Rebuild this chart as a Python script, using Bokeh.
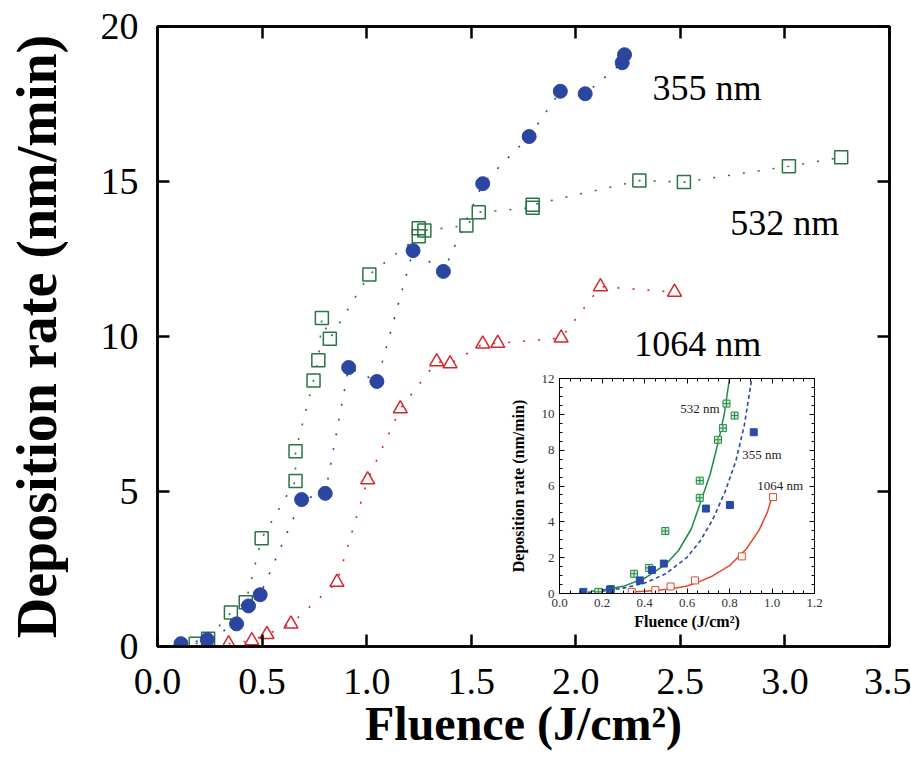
from bokeh.plotting import figure
from bokeh.models import FixedTicker, LinearAxis, Range1d, CustomLabelingPolicy
from bokeh.layouts import column
from bokeh.embed import file_html
from bokeh.resources import INLINE
from bokeh.core.properties import value

# ---------------- data ----------------
# 355 nm series
f355 = [0.112, 0.238, 0.378, 0.435, 0.491, 0.689, 0.802, 0.914, 1.049, 1.222,
        1.367, 1.555, 1.777, 1.926, 2.045, 2.222, 2.233]
r355 = [0.09, 0.22, 0.73, 1.31, 1.67, 4.74, 4.94, 9.00, 8.55, 12.77,
        12.10, 14.93, 16.45, 17.91, 17.83, 18.83, 19.09]
# 532 nm series
f532 = [0.183, 0.242, 0.351, 0.422, 0.498, 0.660, 0.660, 0.746, 0.769, 0.786,
        0.824, 1.013, 1.249, 1.249, 1.276, 1.477, 1.536, 1.794, 1.794, 2.304,
        2.517, 3.019, 3.269]
r532 = [0.09, 0.25, 1.10, 1.43, 3.49, 5.34, 6.30, 8.58, 9.23, 10.60,
        9.93, 12.00, 13.23, 13.49, 13.42, 13.58, 14.01, 14.15, 14.25, 15.03,
        14.98, 15.49, 15.78]
# 1064 nm series
f1064 = [0.340, 0.451, 0.523, 0.638, 0.858, 1.005, 1.161, 1.335, 1.399, 1.555,
         1.627, 1.930, 2.118, 2.472]
r1064 = [0.09, 0.19, 0.39, 0.73, 2.07, 5.38, 7.67, 9.19, 9.12, 9.76,
         9.78, 9.95, 11.61, 11.43]

# number of low-fluence points shown in the inset
n_inset_355 = 8
n_inset_532 = 11
n_inset_1064 = 6

# fitted curves of the inset
fit532_x = [0.15, 0.20, 0.30, 0.40, 0.50, 0.56, 0.62, 0.67, 0.71, 0.75, 0.775, 0.80]
fit532_y = [0.13, 0.19, 0.40, 0.85, 1.62, 2.40, 3.60, 5.30, 6.70, 8.60, 10.0, 12.0]
fit355_x = [0.10, 0.20, 0.30, 0.40, 0.50, 0.60, 0.66, 0.72, 0.78, 0.83, 0.87, 0.905]
fit355_y = [0.04, 0.13, 0.30, 0.58, 1.10, 2.02, 2.90, 4.10, 5.70, 7.40, 9.40, 12.0]
fit1064_x = [0.34, 0.40, 0.45, 0.53, 0.60, 0.65, 0.72, 0.80, 0.88, 0.94, 0.98, 1.00]
fit1064_y = [0.08, 0.13, 0.17, 0.27, 0.42, 0.62, 0.98, 1.55, 2.50, 3.55, 4.60, 5.40]

# tick labels
x_ticks = [0.0, 0.5, 1.0, 1.5, 2.0, 2.5, 3.0, 3.5]
x_tick_labels = ["0.0", "0.5", "1.0", "1.5", "2.0", "2.5", "3.0", "3.5"]
y_ticks = [0, 5, 10, 15, 20]
y_tick_labels = ["0", "5", "10", "15", "20"]
ix_ticks = [0.0, 0.2, 0.4, 0.6, 0.8, 1.0, 1.2]
ix_tick_labels = ["0.0", "0.2", "0.4", "0.6", "0.8", "1.0", "1.2"]
ix_minor = [round(i * 0.05, 2) for i in range(25)]
iy_ticks = [0, 2, 4, 6, 8, 10, 12]
iy_tick_labels = ["0", "2", "4", "6", "8", "10", "12"]
iy_minor = [i * 0.5 for i in range(25)]

series_names = ["355 nm", "532 nm", "1064 nm"]
x_title = "Fluence (J/cm²)"
y_title = "Deposition rate (nm/min)"

# ---------------- styles ----------------
FONT = "Liberation Serif"
BLUE, GREEN, RED = "#2B46A0", "#2A7446", "#D3272E"
IBLUE, IGREEN, IRED = "#2A4AA6", "#1E8B45", "#E2492B"


def no_labels():
    return CustomLabelingPolicy(code="return new Set()")


def make_axes(fig, xt, xlab, yt, ylab, xminor, yminor, lw, tick_in, minor_in,
              tick_font, tick_color, title_fonts, xtitle, ytitle):
    axes = {}
    for loc in ["below", "above", "left", "right"]:
        horizontal = loc in ("below", "above")
        ticks = xt if horizontal else yt
        labels = xlab if horizontal else ylab
        minor = xminor if horizontal else yminor
        ax = LinearAxis(ticker=FixedTicker(ticks=ticks, minor_ticks=minor))
        ax.axis_line_width = lw
        ax.axis_line_color = "black"
        ax.major_tick_line_width = lw
        ax.minor_tick_line_width = 1
        ax.major_tick_in = tick_in
        ax.major_tick_out = 0
        ax.minor_tick_in = minor_in
        ax.minor_tick_out = 0
        if not minor:
            ax.minor_tick_line_color = None
        ax.major_label_text_font = FONT
        ax.major_label_text_color = tick_color
        if loc in ("below", "left"):
            ax.major_label_overrides = dict(zip(ticks, labels))
            ax.major_label_text_font_size = tick_font
            ax.axis_label = xtitle if horizontal else ytitle
            ax.axis_label_text_font = FONT
            ax.axis_label_text_font_style = "bold"
            ax.axis_label_text_color = "black"
            ax.axis_label_text_font_size = title_fonts[0] if horizontal else title_fonts[1]
        else:
            ax.major_label_policy = no_labels()
            ax.major_label_text_font_size = "1px"
            ax.major_label_standoff = 0
        fig.add_layout(ax, loc)
        axes[loc] = ax
    return axes


# ---------------- main figure ----------------
p = figure(width=911, height=758, x_range=Range1d(0, 3.5), y_range=Range1d(0, 20),
           x_axis_location=None, y_axis_location=None,
           output_backend="svg", toolbar_location=None,
           min_border_left=157, min_border_right=22, min_border_top=26, min_border_bottom=112)
p.grid.visible = False
p.outline_line_color = "black"
p.outline_line_width = 2.5
p.background_fill_color = "white"
p.border_fill_color = "white"

ax_main = make_axes(p, x_ticks, x_tick_labels, y_ticks, y_tick_labels, [], [],
                    2.5, 12, 0, "38px", "black", ("48px", "56px"), x_title, y_title)
ax_main["below"].major_label_standoff = 22
ax_main["below"].axis_label_standoff = 0
ax_main["left"].major_label_standoff = 19
ax_main["left"].axis_label_standoff = 30

dash = "2 13"
p.line(f532, r532, line_color=GREEN, line_width=1.6, line_dash=dash)
p.line(f355, r355, line_color=BLUE, line_width=1.6, line_dash=dash)
p.line(f1064, r1064, line_color=RED, line_width=1.6, line_dash=dash)
p.scatter(f532, r532, marker="square", size=13, fill_color=None, line_color=GREEN, line_width=1.5)
p.scatter(f1064, r1064, marker="triangle", size=14, fill_color=None, line_color=RED, line_width=1.5)
p.scatter(f355, r355, marker="circle", size=14, fill_color=BLUE, line_color=BLUE)

p.text(x=[2.367, 2.739, 2.279], y=[18.02, 13.65, 9.77], text=series_names,
       text_font=value(FONT), text_font_size="36px", text_color="black",
       text_baseline="alphabetic", text_align="left")

# ---------------- inset figure ----------------
# borders equal to the main figure's (column layouts align plot frames);
# transparent border so the main plot shows through.
ins = figure(width=434, height=268, x_range=Range1d(0, 1.2), y_range=Range1d(0, 12),
             x_axis_location=None, y_axis_location=None,
             output_backend="svg", toolbar_location=None,
             min_border_left=157, min_border_right=22, min_border_top=10, min_border_bottom=43,
             margin=(368 - 758, 0, 0, 402))
ins.grid.visible = False
ins.outline_line_color = "black"
ins.outline_line_width = 1
ins.background_fill_color = "white"
ins.border_fill_alpha = 0

ax_ins = make_axes(ins, ix_ticks, ix_tick_labels, iy_ticks, iy_tick_labels, ix_minor, iy_minor,
                   1, 5, 3, "13px", "#333333", ("16px", "16px"), x_title, y_title)
ax_ins["below"].major_label_standoff = 5
ax_ins["below"].axis_label_standoff = 3
ax_ins["left"].major_label_standoff = 5
ax_ins["left"].axis_label_standoff = 12

ins.line(fit532_x, fit532_y, line_color=IGREEN, line_width=1.5)
ins.line(fit355_x, fit355_y, line_color=IBLUE, line_width=1.6, line_dash="4 3")
ins.line(fit1064_x, fit1064_y, line_color=IRED, line_width=1.5)
ins.scatter(f532[:n_inset_532], r532[:n_inset_532], marker="square_cross", size=7,
            fill_color="#cfe8d4", line_color=IGREEN, line_width=1)
ins.scatter(f1064[:n_inset_1064], r1064[:n_inset_1064], marker="square", size=7,
            fill_color="white", line_color=IRED, line_width=1)
ins.scatter(f355[:n_inset_355], r355[:n_inset_355], marker="square", size=7,
            fill_color=IBLUE, line_color=IBLUE)
ins.text(x=[0.568, 0.860, 0.930], y=[10.34, 7.77, 6.04],
         text=[series_names[1], series_names[0], series_names[2]],
         text_font=value(FONT), text_font_size="13px", text_color="#222222",
         text_baseline="alphabetic", text_align="left")

layout = column(p, ins)
open("out.html", "w").write(file_html(layout, INLINE))
